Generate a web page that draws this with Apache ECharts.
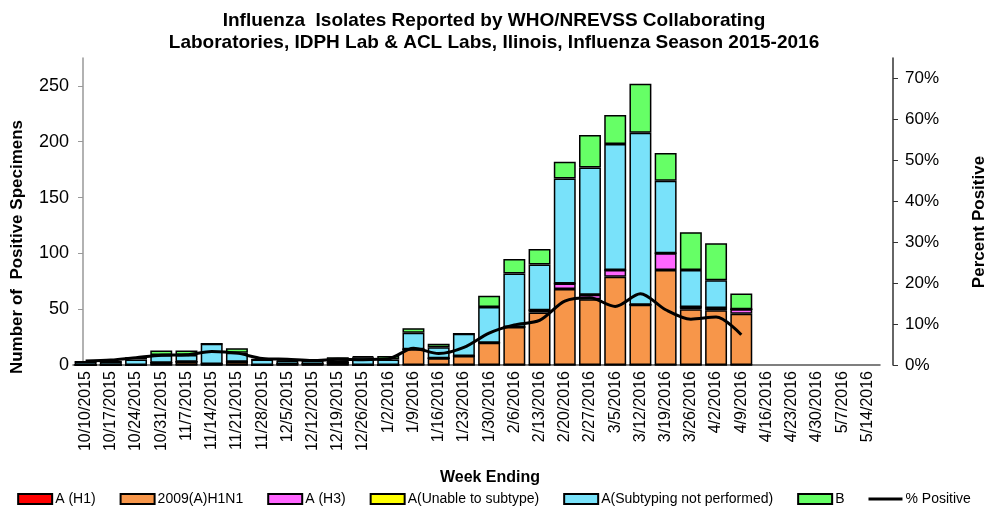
<!DOCTYPE html>
<html>
<head>
<meta charset="utf-8">
<script src="https://cdn.jsdelivr.net/npm/echarts@6/dist/echarts.min.js"></script>
<style>
  html, body { margin: 0; padding: 0; background: #fff; }
  #chart { width: 988px; height: 515px; }
</style>
</head>
<body>
<div id="chart"></div>
<script>
const weeks = [
  '10/10/2015', '10/17/2015', '10/24/2015', '10/31/2015', '11/7/2015', '11/14/2015',
  '11/21/2015', '11/28/2015', '12/5/2015', '12/12/2015', '12/19/2015', '12/26/2015',
  '1/2/2016', '1/9/2016', '1/16/2016', '1/23/2016', '1/30/2016', '2/6/2016',
  '2/13/2016', '2/20/2016', '2/27/2016', '3/5/2016', '3/12/2016', '3/19/2016',
  '3/26/2016', '4/2/2016', '4/9/2016', '4/16/2016', '4/23/2016', '4/30/2016',
  '5/7/2016', '5/14/2016'
]
// weeks after 4/9/2016 have no data yet
const aH1 = [0, 0, 0, 0, 0, 0, 0, 0, 0, 0, 0, 0, 0, 0, 0, 0, 0, 0, 0, 0, 0, 0, 0, 0, 0, 0, 0]
const h1n1 = [0, 0, 0, 2, 3, 1, 3, 0, 1, 1, 2, 0, 0, 14, 6, 8, 20, 34, 47, 68, 59, 79, 54, 85, 50, 49, 46]
const aH3 = [0, 0, 0, 0, 0, 0, 0, 0, 0, 0, 0, 0, 0, 0, 0, 0, 0, 0, 2, 5, 4, 6, 0, 15, 2, 2, 4]
const unable = [0, 0, 0, 0, 0, 0, 0, 0, 0, 0, 0, 0, 0, 0, 0, 0, 0, 0, 0, 0, 0, 0, 0, 0, 0, 0, 0]
const notPerformed = [3, 3, 5, 7, 6, 18, 8, 5, 3, 3, 2, 7, 5, 15, 10, 20, 32, 48, 41, 94, 114, 113, 154, 65, 33, 25, 0]
const fluB = [0, 0, 2, 4, 4, 0, 4, 0, 1, 0, 3, 1, 3, 4, 3, 0, 10, 13, 14, 15, 29, 26, 44, 25, 34, 33, 14]
const pctPositive = [1.0, 1.2, 1.8, 2.4, 2.5, 3.3, 2.9, 1.6, 1.4, 1.1, 1.4, 1.3, 1.5, 4.1, 2.8, 4.3, 7.8, 9.8, 10.9, 15.6, 16.4, 14.3, 17.4, 13.5, 11.2, 11.7, 7.4]

const leftTicks = { min: 0, max: 275, interval: 50 }
const rightTicks = { min: 0, max: 75, interval: 10 }

function pad(arr) {
  const out = arr.slice()
  while (out.length < weeks.length) out.push(null)
  return out
}

const font = 'Arial, "Liberation Sans", sans-serif'
const chart = echarts.init(document.getElementById('chart'))

function barSeries(name, data, color) {
  return {
    name: name,
    type: 'bar',
    stack: 'flu',
    data: pad(data),
    barCategoryGap: '13%',
    itemStyle: { color: color, borderColor: '#000', borderWidth: 1.5 },
    emphasis: { disabled: true }
  }
}

const option = {
  animation: false,
  textStyle: { fontFamily: font },
  title: {
    text: 'Influenza  Isolates Reported by WHO/NREVSS Collaborating\nLaboratories, IDPH Lab & ACL Labs, Ilinois, Influenza Season 2015-2016',
    left: 'center',
    top: 5,
    textStyle: { fontSize: 19, fontWeight: 'bold', color: '#000', lineHeight: 22, fontFamily: font }
  },
  legend: {
    bottom: 4,
    left: 'center',
    itemWidth: 34,
    itemHeight: 10,
    itemGap: 24,
    textStyle: { fontSize: 14, color: '#000', padding: [0, 0, 0, -2] },
    data: [
      { name: 'A (H1)', icon: 'rect' },
      { name: '2009(A)H1N1', icon: 'rect' },
      { name: 'A (H3)', icon: 'rect' },
      { name: 'A(Unable to subtype)', icon: 'rect' },
      { name: 'A(Subtyping not performed)', icon: 'rect' },
      { name: 'B', icon: 'rect' },
      { name: '% Positive', icon: 'path://M0,0 L34,0 L34,3 L0,3 Z' }
    ]
  },
  grid: { left: 73, right: 108, top: 58, bottom: 150 },
  xAxis: {
    type: 'category',
    data: weeks,
    axisLine: { lineStyle: { color: '#555', width: 1.5 } },
    axisTick: { length: 5, lineStyle: { color: '#333' } },
    axisLabel: { rotate: 90, interval: 0, fontSize: 16, color: '#000', margin: 6 }
  },
  yAxis: [
    {
      type: 'value',
      min: leftTicks.min,
      max: leftTicks.max,
      interval: leftTicks.interval,
      offset: -10,
      axisLine: { show: true, lineStyle: { color: '#999', width: 1.5 } },
      axisTick: { show: true, length: 5, lineStyle: { color: '#999' } },
      axisLabel: { fontSize: 18, color: '#000', margin: 14, showMaxLabel: false },
      splitLine: { show: false }
    },
    {
      type: 'value',
      min: rightTicks.min,
      max: rightTicks.max,
      interval: rightTicks.interval,
      offset: 13,
      position: 'right',
      axisLine: { show: true, lineStyle: { color: '#333', width: 1.5 } },
      axisTick: { show: true, length: 5, lineStyle: { color: '#333' } },
      axisLabel: { fontSize: 17, color: '#000', margin: 12, formatter: '{value}%', showMaxLabel: false },
      splitLine: { show: false }
    }
  ],
  graphic: [
    {
      type: 'text', rotation: Math.PI / 2, x: 17, y: 247,
      style: { text: 'Number of  Positive Specimens', font: 'bold 17px ' + font, fill: '#000', align: 'center', verticalAlign: 'middle' }
    },
    {
      type: 'text', rotation: Math.PI / 2, x: 979, y: 222,
      style: { text: 'Percent Positive', font: 'bold 17px ' + font, fill: '#000', align: 'center', verticalAlign: 'middle' }
    },
    {
      type: 'text', x: 490, y: 478,
      style: { text: 'Week Ending', font: 'bold 16px ' + font, fill: '#000', align: 'center', verticalAlign: 'middle' }
    }
  ],
  series: [
    barSeries('A (H1)', aH1, '#ff0000'),
    barSeries('2009(A)H1N1', h1n1, '#f7964a'),
    barSeries('A (H3)', aH3, '#ff66ff'),
    barSeries('A(Unable to subtype)', unable, '#ffff00'),
    barSeries('A(Subtyping not performed)', notPerformed, '#79e2fa'),
    barSeries('B', fluB, '#66ff66'),
    {
      name: '% Positive',
      type: 'line',
      yAxisIndex: 1,
      data: pad(pctPositive),
      symbol: 'none',
      smooth: 0.3,
      z: 5,
      lineStyle: { color: '#000', width: 3 },
      itemStyle: { color: '#000' }
    }
  ]
}

chart.setOption(option)
</script>
</body>
</html>
